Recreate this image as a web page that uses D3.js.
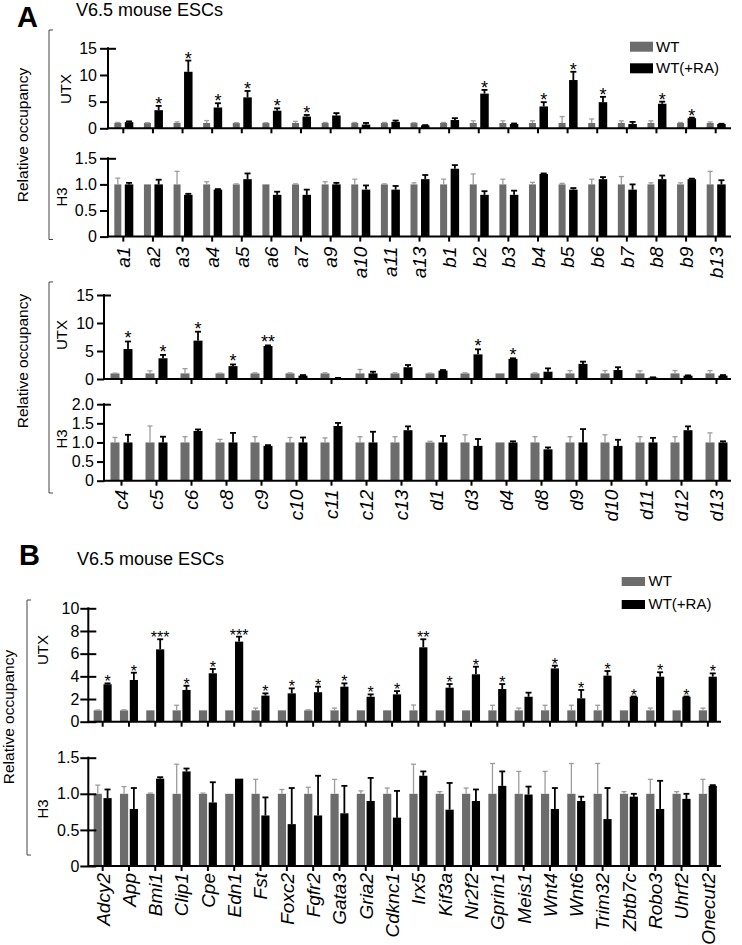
<!DOCTYPE html>
<html><head><meta charset="utf-8">
<script src="https://cdn.jsdelivr.net/npm/d3@7"></script>
<style>body{margin:0;background:#fff} text{font-family:"Liberation Sans",Arial,Helvetica,sans-serif}</style>
</head><body><svg id="c" width="742" height="945"></svg>
<script>
// ---------- Panel A, upper block ----------
const catsA1 = ["a1","a2","a3","a4","a5","a6","a7","a9","a10","a11","a13","b1","b2","b3","b4","b5","b6","b7","b8","b9","b13"];
const utxA1_wt    = [1,1,1,1,1,1,1,1,1,1,1,1,1,1,1,1,1,1,1,1,1];
const utxA1_wtErr = [0.1,0.05,0.2,0.45,0.05,0.05,0.3,0.1,0.1,0.1,0.05,0.1,0.4,0.4,0.4,1.2,0.75,0.4,0.4,0.1,0.2];
const utxA1_ra    = [1.15,3.4,10.6,3.9,5.8,3.3,2.2,2.4,0.7,1.2,0.55,1.55,6.5,0.8,4.1,9.05,4.9,0.8,4.6,1.9,0.8];
const utxA1_raErr = [0.15,0.8,2.1,0.8,1.2,0.45,0.3,0.45,0.3,0.25,0.05,0.35,0.7,0.1,0.8,1.55,1.0,0.4,0.4,0.1,0.05];
const sigA1       = ["","*","*","*","*","*","*","","","","","","*","","*","*","*","","*","*",""];
const h3A1_wt     = [1,1,1,1,1,1,1,1,1,1,1,1,1,1,1,1,1,1,1,1,1];
const h3A1_wtErr  = [0.12,0,0.25,0.05,0.01,0,0.01,0.05,0.1,0.01,0.03,0.1,0.2,0.1,0.04,0.02,0.1,0.15,0.03,0.03,0.25];
const h3A1_ra     = [1.0,1.0,0.8,0.9,1.1,0.8,0.8,1.0,0.9,0.9,1.1,1.3,0.8,0.8,1.2,0.9,1.1,0.9,1.1,1.1,1.0];
const h3A1_raErr  = [0.03,0.09,0.02,0.01,0.11,0.06,0.1,0.03,0.08,0.07,0.08,0.07,0.07,0.08,0.01,0.03,0.04,0.1,0.07,0.01,0.08];

// ---------- Panel A, lower block ----------
const catsA2 = ["c4","c5","c6","c8","c9","c10","c11","c12","c13","d1","d3","d4","d8","d9","d10","d11","d12","d13"];
const utxA2_wt    = [1,1,1,1,1,1,1,1,1,1,1,1,1,1,1,1,1,1];
const utxA2_wtErr = [0.05,0.45,0.85,0.05,0.1,0.1,0.1,0.7,0.1,0.05,0.1,0,0.1,0.5,0.5,0.45,0.5,0.5];
const utxA2_ra    = [5.35,3.7,6.85,2.3,5.9,0.6,0.15,1.0,2.1,1.5,4.4,3.6,1.3,2.7,1.6,0.25,0.6,0.6];
const utxA2_raErr = [1.35,0.6,1.6,0.3,0.1,0.1,0.05,0.3,0.4,0.1,0.9,0.1,0.6,0.4,0.5,0.05,0.05,0.1];
const sigA2       = ["*","*","*","*","**","","","","","","*","*","","","","","",""];
const h3A2_wt     = [1,1,1,1,1,1,1,1,1,1,1,1,1,1,1,1,1,1];
const h3A2_wtErr  = [0.13,0.43,0.15,0.08,0.15,0.13,0.12,0.15,0.15,0.03,0.2,0,0.15,0.15,0.2,0.15,0.15,0.25];
const h3A2_ra     = [1.0,1.0,1.3,1.0,0.91,1.0,1.43,1.0,1.32,1.0,0.91,1.0,0.82,1.0,0.91,1.0,1.32,1.0];
const h3A2_raErr  = [0.2,0.15,0.04,0.25,0.02,0.13,0.08,0.28,0.1,0.17,0.18,0.03,0.05,0.35,0.16,0.12,0.1,0.03];

// ---------- Panel B ----------
const catsB = ["Adcy2","App","Bmi1","Clip1","Cpe","Edn1","Fst","Foxc2","Fgfr2","Gata3","Gria2","Cdknc1","Irx5","Kif3a","Nr2f2","Gprin1","Meis1","Wnt4","Wnt6","Trim32","Zbtb7c","Robo3","Uhrf2","Onecut2"];
const utxB_wt    = [1,1,1,1,1,1,1,1,1,1,1,1,1,1,1,1,1,1,1,1,1,1,1,1];
const utxB_wtErr = [0.03,0.05,0,0.45,0,0,0.2,0,0.05,0.2,0,0,0.47,0,0,0.45,0.2,0.45,0.45,0.45,0,0.2,0,0.2];
const utxB_ra    = [3.3,3.68,6.38,2.8,4.27,7.06,2.3,2.5,2.6,3.09,2.2,2.41,6.56,3.0,4.18,2.88,2.2,4.7,2.06,4.06,2.2,3.97,2.2,3.97];
const utxB_raErr = [0.08,0.64,0.89,0.37,0.38,0.44,0.2,0.44,0.49,0.29,0.21,0.29,0.71,0.32,0.67,0.44,0.36,0.24,0.74,0.41,0.02,0.39,0.02,0.29];
const sigB       = ["*","*","***","*","*","***","*","*","*","*","*","*","**","*","*","*","","*","*","*","*","*","*","*"];
const h3B_wt     = [1,1,1,1,1,1,1,1,1,1,1,1,1,1,1,1,1,1,1,1,1,1,1,1];
const h3B_wtErr  = [0.12,0.1,0.01,0.41,0.01,0,0.2,0.06,0.09,0.2,0.04,0.08,0.41,0.03,0.08,0.42,0.31,0.31,0.42,0.42,0.03,0.2,0.03,0.2];
const h3B_ra     = [0.94,0.79,1.21,1.31,0.88,1.21,0.7,0.58,0.7,0.73,0.9,0.67,1.25,0.78,0.9,1.11,0.99,0.79,0.9,0.65,0.96,0.79,0.93,1.11];
const h3B_raErr  = [0.12,0.29,0.02,0.04,0.28,0,0.25,0.5,0.55,0.38,0.32,0.37,0.06,0.37,0.16,0.2,0.11,0.29,0.06,0.43,0.04,0.39,0.07,0.01];

const utxTicksA = [0,5,10,15];
const h3TicksA1 = [0,0.5,1,1.5];
const h3TicksA2 = [0,0.5,1,1.5,2];
const utxTicksB = [0,2,4,6,8,10];
const h3TicksB  = [0,0.5,1,1.5];
const seriesNames = ["WT","WT(+RA)"];

const svg = d3.select("#c");
const GRAY = "#6c6c6c", GRAYERR = "#9c9c9c";
const fmtDec = d => d === 0 ? "0" : d3.format(".1f")(d);
const fmtInt = d => String(d);

function chart(o) {
  const x = d3.scaleBand().domain(o.cats).range([o.x0, o.x1]).padding(0);
  const y = d3.scaleLinear().domain([0, o.max]).range([o.y0, o.yTop]);
  const g = svg.append("g");
  const rows = o.cats.map((c, i) => ({c, wt:o.wt[i], wtE:o.wtErr[i], ra:o.ra[i], raE:o.raErr[i], sig:o.sig ? o.sig[i] : ""}));
  const cx = d => x(d.c) + x.bandwidth()/2;

  g.selectAll(".gb").data(rows).join("rect")
    .attr("x", d => cx(d) + o.gOff).attr("width", o.gW)
    .attr("y", d => y(d.wt)).attr("height", d => y(0) - y(d.wt)).attr("fill", GRAY);
  g.selectAll(".bb").data(rows).join("rect")
    .attr("x", d => cx(d) + o.bOff).attr("width", o.bW)
    .attr("y", d => y(d.ra)).attr("height", d => y(0) - y(d.ra)).attr("fill", "#000");

  const eg = g.append("g");
  rows.forEach(d => {
    if (d.wtE > 0.005) {
      const xm = cx(d) + o.gOff + o.gW/2;
      eg.append("line").attr("x1", xm).attr("x2", xm).attr("y1", y(d.wt)).attr("y2", y(d.wt + d.wtE)).attr("stroke", GRAYERR).attr("stroke-width", 1.3);
      eg.append("line").attr("x1", xm-2.5).attr("x2", xm+2.5).attr("y1", y(d.wt + d.wtE)).attr("y2", y(d.wt + d.wtE)).attr("stroke", GRAYERR).attr("stroke-width", 1.3);
    }
    if (d.raE > 0.005) {
      const xm = cx(d) + o.bOff + o.bW/2;
      eg.append("line").attr("x1", xm).attr("x2", xm).attr("y1", y(d.ra)).attr("y2", y(d.ra + d.raE)).attr("stroke", "#000").attr("stroke-width", 1.8);
      eg.append("line").attr("x1", xm-3).attr("x2", xm+3).attr("y1", y(d.ra + d.raE)).attr("y2", y(d.ra + d.raE)).attr("stroke", "#000").attr("stroke-width", 1.8);
    }
  });

  g.selectAll(".st").data(rows.filter(d => d.sig)).join("text")
    .attr("x", d => cx(d) + o.bOff + o.bW/2).attr("y", d => y(d.ra + d.raE) + o.starDy)
    .attr("text-anchor", "middle").attr("font-size", o.starSize).text(d => d.sig);

  const ya = g.append("g").attr("transform", `translate(${o.axisX},0)`)
    .call(d3.axisLeft(y).tickValues(o.ticks).tickSize(o.tickLen).tickPadding(o.tickPad).tickFormat(o.fmt));
  ya.select(".domain").remove();
  ya.selectAll(".tick line").attr("stroke", "#000").attr("stroke-width", 2)
    .attr("x1", d => (o.cross || d === o.max) ? o.tickLen : 0);
  ya.selectAll(".tick text").attr("font-size", 16).attr("fill", "#000");
  g.append("line").attr("x1", o.axisX).attr("x2", o.axisX).attr("y1", y(0)+1).attr("y2", y(o.max)-1)
    .attr("stroke", "#000").attr("stroke-width", 2);

  const xa = g.append("g").attr("transform", `translate(0,${o.y0})`)
    .call(d3.axisBottom(x).tickSize(5).tickFormat(o.showLabels ? (d => d) : ""));
  xa.select(".domain").remove();
  xa.selectAll(".tick line").attr("stroke", "#000").attr("stroke-width", 2);
  g.append("line").attr("x1", o.axisX).attr("x2", o.axisEnd).attr("y1", o.y0).attr("y2", o.y0)
    .attr("stroke", "#000").attr("stroke-width", 2);
  if (o.showLabels) {
    xa.selectAll(".tick text")
      .attr("transform", "rotate(-90)").attr("text-anchor", "end")
      .attr("x", -o.labelGap).attr("y", 0).attr("dy", "0.36em")
      .attr("font-size", 19).attr("font-style", "italic").attr("fill", "#000");
  }

  svg.append("text").attr("transform", `translate(${o.titleX},${o.titleY}) rotate(-90)`)
    .attr("text-anchor", "middle").attr("font-size", 15).text(o.title);
}

function bracket(x, y1, y2, label, lx, ly) {
  svg.append("path").attr("d", `M${x+4},${y1}H${x}V${y2}H${x+4}`).attr("fill", "none").attr("stroke", "#444").attr("stroke-width", 1);
  svg.append("text").attr("transform", `translate(${lx},${ly}) rotate(-90)`)
    .attr("text-anchor", "middle").attr("font-size", 15.5).text(label);
}

function legend(x, y1, y2, w, h, tx) {
  svg.append("rect").attr("x", x).attr("y", y1).attr("width", w).attr("height", h).attr("fill", GRAY);
  svg.append("rect").attr("x", x).attr("y", y2).attr("width", w).attr("height", h).attr("fill", "#000");
  svg.append("text").attr("x", tx).attr("y", y1 + h).attr("font-size", 15).text(seriesNames[0]);
  svg.append("text").attr("x", tx).attr("y", y2 + h).attr("font-size", 15).text(seriesNames[1]);
}

svg.append("text").attr("x", 17).attr("y", 27).attr("font-size", 29).attr("font-weight", "bold").text("A");
svg.append("text").attr("x", 76).attr("y", 16).attr("font-size", 18).text("V6.5 mouse ESCs");
svg.append("text").attr("x", 19).attr("y", 565).attr("font-size", 29).attr("font-weight", "bold").text("B");
svg.append("text").attr("x", 77).attr("y", 565).attr("font-size", 18).text("V6.5 mouse ESCs");

const A1 = {cats:catsA1, x0:108.5, x1:730.5, axisX:108, axisEnd:731, gOff:-9, gW:7, bOff:1.5, bW:8.5,
  starSize:18, starDy:4, tickLen:8, tickPad:3, cross:false};
chart(Object.assign({}, A1, {wt:utxA1_wt, wtErr:utxA1_wtErr, ra:utxA1_ra, raErr:utxA1_raErr, sig:sigA1,
  y0:128.3, yTop:48.3, max:15, ticks:utxTicksA, fmt:fmtInt, showLabels:false, title:"UTX", titleX:70.5, titleY:89}));
chart(Object.assign({}, A1, {wt:h3A1_wt, wtErr:h3A1_wtErr, ra:h3A1_ra, raErr:h3A1_raErr, sig:null,
  y0:236.6, yTop:158.3, max:1.5, ticks:h3TicksA1, fmt:fmtDec, showLabels:true, labelGap:10, title:"H3", titleX:66.5, titleY:197}));

const A2 = {cats:catsA2, x0:104, x1:734, axisX:104, axisEnd:731, gOff:-11, gW:9, bOff:2, bW:9,
  starSize:18, starDy:3, tickLen:7, tickPad:3, cross:false};
chart(Object.assign({}, A2, {wt:utxA2_wt, wtErr:utxA2_wtErr, ra:utxA2_ra, raErr:utxA2_raErr, sig:sigA2,
  y0:379, yTop:295, max:15, ticks:utxTicksA, fmt:fmtInt, showLabels:false, title:"UTX", titleX:66.5, titleY:335}));
chart(Object.assign({}, A2, {wt:h3A2_wt, wtErr:h3A2_wtErr, ra:h3A2_ra, raErr:h3A2_raErr, sig:null,
  y0:480.7, yTop:404.2, max:2, ticks:h3TicksA2, fmt:fmtDec, showLabels:true, labelGap:9, title:"H3", titleX:66.5, titleY:439}));

const B = {cats:catsB, x0:89.5, x1:721, axisX:88.3, axisEnd:721, gOff:-9, gW:8.2, bOff:0.8, bW:8.2,
  starSize:16, starDy:4, tickLen:8, tickPad:1, cross:true};
chart(Object.assign({}, B, {wt:utxB_wt, wtErr:utxB_wtErr, ra:utxB_ra, raErr:utxB_raErr, sig:sigB,
  y0:721.7, yTop:608.3, max:10, ticks:utxTicksB, fmt:fmtInt, showLabels:false, title:"UTX", titleX:48.3, titleY:650}));
chart(Object.assign({}, B, {wt:h3B_wt, wtErr:h3B_wtErr, ra:h3B_ra, raErr:h3B_raErr, sig:null,
  y0:866, yTop:757.7, max:1.5, ticks:h3TicksB, fmt:fmtDec, showLabels:true, labelGap:7, title:"H3", titleX:48.3, titleY:809}));

bracket(49, 30, 239.5, "Relative occupancy", 28, 135);
bracket(49, 282, 493, "Relative occupancy", 28, 361);
bracket(27, 600, 855, "Relative occupancy", 14, 717);

legend(630, 41.7, 63.3, 23, 10, 656);
legend(621.7, 577, 600, 23.3, 9, 648.5);
</script></body></html>
